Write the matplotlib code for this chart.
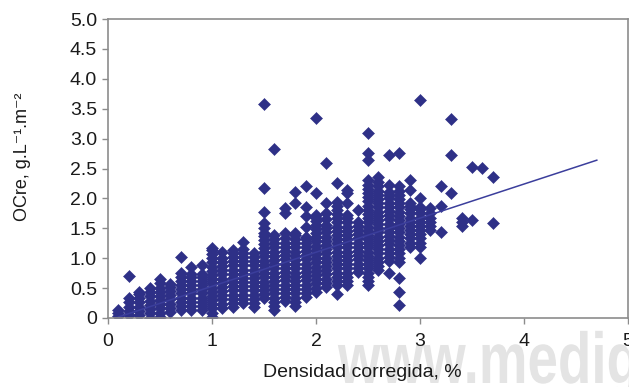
import numpy as np
import matplotlib
matplotlib.use('Agg')
import matplotlib.pyplot as plt
from matplotlib.textpath import TextPath
from matplotlib.patches import PathPatch
from matplotlib.font_manager import FontProperties
from matplotlib.transforms import Affine2D

plt.rcParams['font.family'] = ['Liberation Sans', 'DejaVu Sans']

# densidad corregida (%) for each column of points
col_dens = [0.1, 0.2, 0.3, 0.4, 0.5, 0.6, 0.7, 0.8, 0.9, 1.0,
            1.1, 1.2, 1.3, 1.4, 1.5, 1.6, 1.7, 1.8, 1.9, 2.0,
            2.1, 2.2, 2.3, 2.4, 2.5, 2.6, 2.7, 2.8, 2.9, 3.0,
            3.1, 3.2, 3.3, 3.4, 3.5, 3.6, 3.7]

# OCre values
col_ocre = [
    [0.03, 0.08, 0.13],
    [0.05, 0.12, 0.19, 0.26, 0.33, 0.70],
    [0.05, 0.12, 0.19, 0.26, 0.33, 0.40, 0.44],
    [0.00, 0.08, 0.15, 0.22, 0.29, 0.36, 0.43, 0.50],
    [0.02, 0.09, 0.16, 0.23, 0.30, 0.37, 0.44, 0.51, 0.58, 0.65],
    [0.10, 0.17, 0.24, 0.31, 0.38, 0.45, 0.52, 0.57],
    [0.13, 0.20, 0.27, 0.34, 0.41, 0.48, 0.55, 0.62, 0.69, 0.75, 1.02],
    [0.13, 0.20, 0.27, 0.34, 0.41, 0.48, 0.55, 0.62, 0.69, 0.73, 0.85],
    [0.13, 0.20, 0.27, 0.34, 0.41, 0.48, 0.55, 0.62, 0.69, 0.73, 0.88],
    [0.02, 0.09, 0.16, 0.23, 0.30, 0.37, 0.44, 0.51, 0.58, 0.65, 0.72, 0.79,
     0.86, 0.93, 1.00, 1.07, 1.13, 1.17],
    [0.17, 0.24, 0.31, 0.38, 0.45, 0.52, 0.59, 0.66, 0.73, 0.80, 0.87, 0.94,
     1.01, 1.10],
    [0.18, 0.25, 0.32, 0.39, 0.46, 0.53, 0.60, 0.67, 0.74, 0.81, 0.88, 0.95,
     1.02, 1.08, 1.14],
    [0.25, 0.32, 0.39, 0.46, 0.53, 0.60, 0.67, 0.74, 0.81, 0.88, 0.95, 1.02,
     1.09, 1.16, 1.27],
    [0.18, 0.25, 0.32, 0.39, 0.46, 0.53, 0.60, 0.67, 0.74, 0.81, 0.88, 0.95,
     1.02, 1.09],
    [0.33, 0.40, 0.47, 0.54, 0.61, 0.68, 0.75, 0.82, 0.89, 0.96, 1.03, 1.10,
     1.17, 1.24, 1.31, 1.37, 1.42, 1.51, 1.59, 1.78, 2.18, 3.58],
    [0.13, 0.20, 0.27, 0.34, 0.41, 0.48, 0.55, 0.62, 0.69, 0.76, 0.83, 0.90,
     0.97, 1.04, 1.11, 1.18, 1.25, 1.32, 1.39, 2.83],
    [0.28, 0.35, 0.42, 0.49, 0.56, 0.63, 0.70, 0.77, 0.84, 0.91, 0.98, 1.05,
     1.12, 1.19, 1.26, 1.33, 1.42, 1.76, 1.84],
    [0.20, 0.27, 0.34, 0.41, 0.48, 0.55, 0.62, 0.69, 0.76, 0.83, 0.90, 0.97,
     1.04, 1.11, 1.18, 1.25, 1.32, 1.38, 1.42, 1.92, 2.11],
    [0.35, 0.42, 0.49, 0.56, 0.63, 0.70, 0.77, 0.84, 0.91, 0.98, 1.05, 1.12,
     1.19, 1.26, 1.32, 1.36, 1.52, 1.70, 1.86, 2.20],
    [0.44, 0.51, 0.58, 0.65, 0.72, 0.79, 0.86, 0.93, 1.00, 1.07, 1.14, 1.21,
     1.28, 1.35, 1.42, 1.49, 1.56, 1.63, 1.68, 1.72, 2.09, 3.35],
    [0.52, 0.59, 0.66, 0.73, 0.80, 0.87, 0.94, 1.01, 1.08, 1.15, 1.22, 1.29,
     1.36, 1.43, 1.50, 1.56, 1.66, 1.76, 1.93, 2.59],
    [0.40, 0.55, 0.62, 0.69, 0.76, 0.83, 0.90, 0.97, 1.04, 1.11, 1.18, 1.25,
     1.32, 1.39, 1.46, 1.53, 1.60, 1.67, 1.74, 1.81, 1.88, 1.94, 2.26],
    [0.55, 0.62, 0.69, 0.76, 0.83, 0.90, 0.97, 1.04, 1.11, 1.18, 1.25, 1.32,
     1.39, 1.46, 1.53, 1.60, 1.67, 1.73, 1.93, 2.09, 2.14],
    [0.77, 0.84, 0.91, 0.98, 1.05, 1.12, 1.19, 1.26, 1.33, 1.40, 1.47, 1.54,
     1.61, 1.81],
    [0.55, 0.62, 0.69, 0.76, 0.83, 0.90, 0.97, 1.04, 1.11, 1.18, 1.25, 1.32,
     1.39, 1.46, 1.53, 1.60, 1.67, 1.74, 1.81, 1.88, 1.95, 2.02, 2.09, 2.16,
     2.23, 2.31, 2.65, 2.76, 3.10],
    [0.80, 0.87, 0.94, 1.01, 1.08, 1.15, 1.22, 1.29, 1.36, 1.43, 1.50, 1.57,
     1.64, 1.71, 1.78, 1.85, 1.92, 1.99, 2.06, 2.13, 2.20, 2.27, 2.36],
    [0.75, 0.95, 1.02, 1.09, 1.16, 1.23, 1.30, 1.37, 1.44, 1.51, 1.58, 1.65,
     1.72, 1.79, 1.86, 1.93, 2.00, 2.06, 2.10, 2.23, 2.73],
    [0.22, 0.43, 0.67, 0.94, 1.01, 1.08, 1.15, 1.22, 1.29, 1.36, 1.43, 1.50,
     1.57, 1.64, 1.71, 1.78, 1.85, 1.92, 1.99, 2.06, 2.13, 2.20, 2.76],
    [1.19, 1.26, 1.33, 1.40, 1.47, 1.54, 1.61, 1.68, 1.75, 1.82, 1.88, 1.93,
     2.14, 2.31],
    [1.00, 1.19, 1.26, 1.33, 1.40, 1.47, 1.54, 1.61, 1.68, 1.75, 1.82, 1.86,
     2.00, 3.65],
    [1.47, 1.54, 1.61, 1.68, 1.75, 1.84],
    [1.43, 1.88, 2.20],
    [2.09, 2.72, 3.33],
    [1.54, 1.61, 1.68],
    [1.64, 2.53],
    [2.51],
    [1.59, 2.35],
]

# linear trend line
trend_slope = 0.57
trend_intercept = -0.04
trend_range = [0.1, 4.7]

x_ticks = [0, 1, 2, 3, 4, 5]
y_ticks = [0, 0.5, 1.0, 1.5, 2.0, 2.5, 3.0, 3.5, 4.0, 4.5, 5.0]
y_ticklabels = ['0', '0.5', '1.0', '1.5', '2.0', '2.5', '3.0', '3.5', '4.0', '4.5', '5.0']

xs = []
ys = []
for d, vals in zip(col_dens, col_ocre):
    xs += [d] * len(vals)
    ys += vals

navy = '#2e3087'
frame = '#8c8c8c'
txt = '#1a1a1a'

fig = plt.figure(figsize=(6.29, 3.87), dpi=100)
ax = fig.add_axes([108 / 629, 1 - 318 / 387, 520 / 629, 299 / 387])

# condensed grey watermark in the lower right, behind the axis texts
wm = TextPath((0, 0), 'www.medig', size=72,
              prop=FontProperties(family='Liberation Sans', weight='bold'))
wm_tr = Affine2D().scale(0.76, 1.0).translate(338, 4)
fig.add_artist(PathPatch(wm, transform=wm_tr, facecolor='#e4e4e4',
                         edgecolor='none', zorder=-1))

ax.plot(xs, ys, linestyle='none', marker='D', markersize=6.2,
        markerfacecolor=navy, markeredgecolor=navy, markeredgewidth=0.4)

tx = np.array(trend_range)
ax.plot(tx, trend_slope * tx + trend_intercept, color='#3b3e9c', linewidth=1.1)

ax.set_xlim(0, 5)
ax.set_ylim(0, 5)
ax.set_xticks(x_ticks)
ax.set_yticks(y_ticks)
ax.set_yticklabels(y_ticklabels)

for s in ax.spines.values():
    s.set_color(frame)
    s.set_linewidth(1.2)

ax.tick_params(axis='both', direction='out', length=4, width=1, color=frame,
               labelsize=14, labelcolor=txt)
ax.tick_params(axis='x', pad=7)
ax.tick_params(axis='y', pad=4)

ax.set_xlabel('Densidad corregida, %', fontsize=14, color=txt)
ax.xaxis.set_label_coords(0.49, -0.155)
ax.set_ylabel('OCre, g.L\u207b\u00b9.m\u207b\u00b2', fontsize=13, color=txt)
ax.yaxis.set_label_coords(-0.148, 0.54)

fig.patch.set_facecolor('white')
ax.patch.set_alpha(0)
fig.savefig('out.png', dpi=100)
